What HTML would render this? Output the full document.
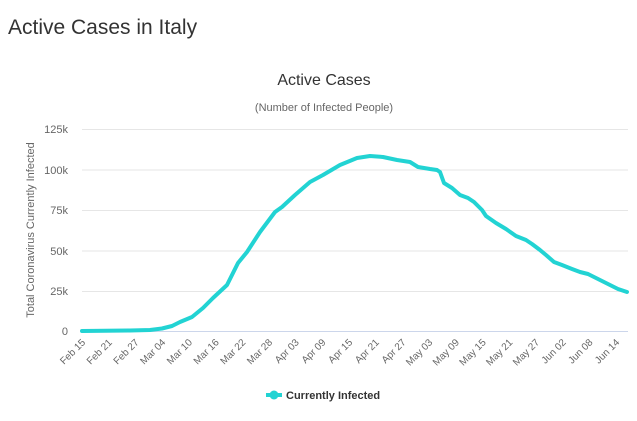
<!DOCTYPE html>
<html><head><style>
body{margin:0;background:#fff;width:637px;height:416px;overflow:hidden;font-family:"Liberation Sans",sans-serif}
</style></head><body>
<svg width="637" height="416" xmlns="http://www.w3.org/2000/svg" font-family="Liberation Sans, sans-serif">
<text x="8" y="34" font-size="21" fill="#333">Active Cases in Italy</text>
<text x="324" y="85" font-size="16" fill="#333" text-anchor="middle">Active Cases</text>
<text x="324" y="111" font-size="11" fill="#666" text-anchor="middle">(Number of Infected People)</text>
<g stroke="#e6e6e6" stroke-width="1">
<line x1="82" x2="628" y1="129.5" y2="129.5"/><line x1="82" x2="628" y1="170" y2="170"/>
<line x1="82" x2="628" y1="210.5" y2="210.5"/><line x1="82" x2="628" y1="251" y2="251"/>
<line x1="82" x2="628" y1="291.5" y2="291.5"/></g>
<line x1="82" x2="628" y1="331.5" y2="331.5" stroke="#ccd6eb"/>
<g font-size="11" fill="#666" text-anchor="end">
<text x="68" y="133">125k</text><text x="68" y="174">100k</text><text x="68" y="214">75k</text>
<text x="68" y="255">50k</text><text x="68" y="295">25k</text><text x="68" y="335">0</text></g>
<text transform="translate(34,230) rotate(-90)" font-size="11" fill="#666" text-anchor="middle">Total Coronavirus Currently Infected</text>
<g font-size="10" fill="#666" text-anchor="end">
<text transform="translate(86,343) rotate(-45)">Feb 15</text>
<text transform="translate(112.7,343) rotate(-45)">Feb 21</text>
<text transform="translate(139.4,343) rotate(-45)">Feb 27</text>
<text transform="translate(166.1,343) rotate(-45)">Mar 04</text>
<text transform="translate(192.8,343) rotate(-45)">Mar 10</text>
<text transform="translate(219.5,343) rotate(-45)">Mar 16</text>
<text transform="translate(246.2,343) rotate(-45)">Mar 22</text>
<text transform="translate(272.9,343) rotate(-45)">Mar 28</text>
<text transform="translate(299.6,343) rotate(-45)">Apr 03</text>
<text transform="translate(326.3,343) rotate(-45)">Apr 09</text>
<text transform="translate(353,343) rotate(-45)">Apr 15</text>
<text transform="translate(379.7,343) rotate(-45)">Apr 21</text>
<text transform="translate(406.4,343) rotate(-45)">Apr 27</text>
<text transform="translate(433.1,343) rotate(-45)">May 03</text>
<text transform="translate(459.8,343) rotate(-45)">May 09</text>
<text transform="translate(486.5,343) rotate(-45)">May 15</text>
<text transform="translate(513.2,343) rotate(-45)">May 21</text>
<text transform="translate(539.9,343) rotate(-45)">May 27</text>
<text transform="translate(566.6,343) rotate(-45)">Jun 02</text>
<text transform="translate(593.3,343) rotate(-45)">Jun 08</text>
<text transform="translate(620,343) rotate(-45)">Jun 14</text>
</g>
<polyline fill="none" stroke="#22d3d3" stroke-width="4" stroke-linejoin="round" stroke-linecap="round"
points="82,331 130,330.5 150,330 162,328.5 172,326 180,322 192,317 203,308 213,298 227,285 238,263 247,252 260,232 275,212 282,207 295,195 310,182 323,175 340,165 357,158 370,156 383,157 397,160 410,162 418,167 430,169 437,170 440,172 444,183 452,188 460,195 468,198 474,202 482,210 486,216 496,223 506,229 516,236 526,240 532,244 540,250 546,255 554,262 562,265 572,269 580,272 588,274 596,278 604,282 612,286 618,289 627,292"/>
<line x1="266" x2="282" y1="395" y2="395" stroke="#22d3d3" stroke-width="4"/>
<circle cx="274" cy="395" r="4.5" fill="#22d3d3"/>
<text x="286" y="399" font-size="11" font-weight="bold" fill="#333">Currently Infected</text>
</svg>
</body></html>
